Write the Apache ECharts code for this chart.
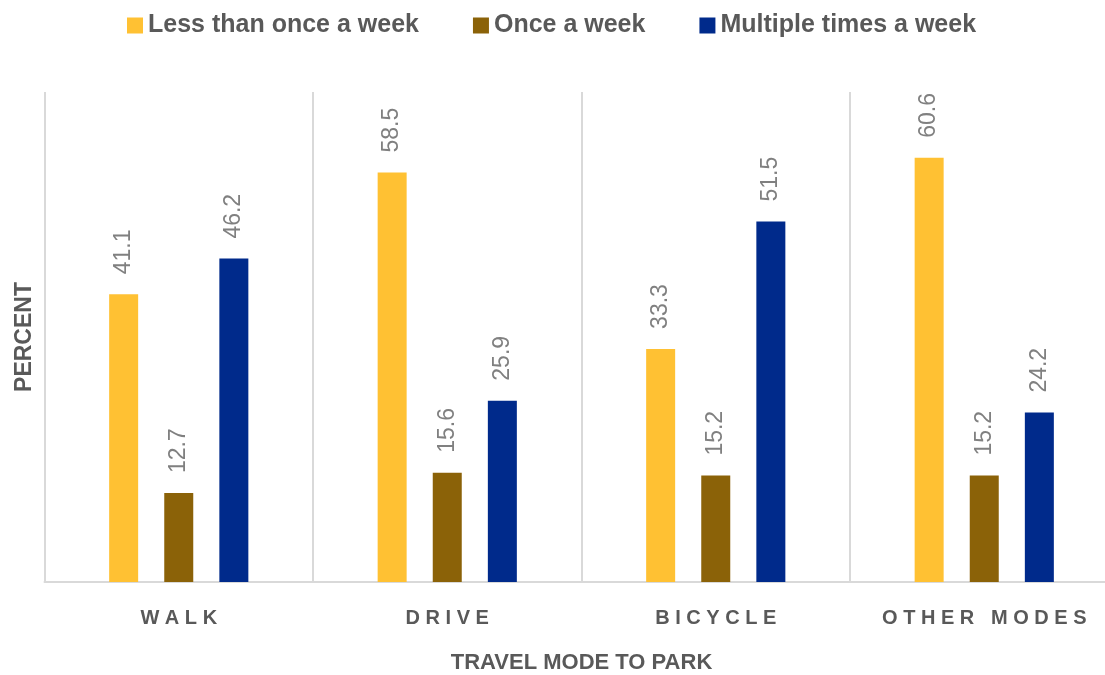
<!DOCTYPE html>
<html>
<head>
<meta charset="utf-8">
<script src="https://cdn.jsdelivr.net/npm/echarts@6/dist/echarts.min.js"></script>
<style>
  html, body { margin: 0; padding: 0; background: #ffffff; }
  #chart { width: 1105px; height: 675px; }
</style>
</head>
<body>
<div id="chart"></div>
<script>
// Travel mode to park vs. visit frequency (percent)
const categories = ['WALK', 'DRIVE', 'BICYCLE', 'OTHER MODES'];
const seriesNames = ['Less than once a week', 'Once a week', 'Multiple times a week'];
const lessThanOnce = [41.1, 58.5, 33.3, 60.6];
const onceAWeek = [12.7, 15.6, 15.2, 15.2];
const multipleTimes = [46.2, 25.9, 51.5, 24.2];
const colors = ['#FFC133', '#8B6208', '#002A8B'];

const FONT = '"Liberation Sans", Arial, sans-serif';

const chart = echarts.init(document.getElementById('chart'), null, { renderer: 'canvas' });

function barSeries(name, data, color) {
  return {
    name: name,
    type: 'bar',
    data: data,
    barWidth: 29,
    barGap: '90%',
    itemStyle: { color: color },
    label: {
      show: true,
      position: 'top',
      rotate: 90,
      align: 'left',
      verticalAlign: 'middle',
      distance: 20,
      color: '#808080',
      fontFamily: FONT,
      fontSize: 23,
      formatter: p => p.value.toFixed(1)
    }
  };
}

chart.setOption({
  animation: false,
  backgroundColor: '#ffffff',
  color: colors,
  legend: {
    top: 8,
    left: 122,
    itemWidth: 16,
    itemHeight: 16,
    itemGap: 54,
    icon: 'rect',
    textStyle: { color: '#595959', fontFamily: FONT, fontSize: 25, fontWeight: 'bold' },
    data: seriesNames
  },
  grid: { left: 44.5, right: -13.5, top: 92, bottom: 93, containLabel: false, outerBoundsMode: 'none' },
  xAxis: {
    type: 'category',
    data: categories,
    name: 'TRAVEL MODE TO PARK',
    nameLocation: 'middle',
    nameGap: 70,
    nameTextStyle: { color: '#595959', fontFamily: FONT, fontSize: 22, fontWeight: 'bold' },
    axisLine: { lineStyle: { color: '#d9d9d9', width: 2 } },
    axisTick: { show: false },
    splitLine: { show: true, interval: 0, lineStyle: { color: '#d9d9d9', width: 2 } },
    axisLabel: {
      interval: 0,
      margin: 26,
      color: '#595959',
      fontFamily: FONT,
      fontSize: 20,
      fontWeight: 'bold',
      formatter: v => v.split('').join(' ')
    }
  },
  yAxis: {
    type: 'value',
    min: 0,
    max: 70,
    name: 'PERCENT',
    nameLocation: 'middle',
    nameGap: 8,
    nameTextStyle: { color: '#595959', fontFamily: FONT, fontSize: 23, fontWeight: 'bold' },
    axisLine: { show: false },
    axisTick: { show: false },
    axisLabel: { show: false },
    splitLine: { show: false }
  },
  series: [
    barSeries(seriesNames[0], lessThanOnce, colors[0]),
    barSeries(seriesNames[1], onceAWeek, colors[1]),
    barSeries(seriesNames[2], multipleTimes, colors[2])
  ]
});
</script>
</body>
</html>
